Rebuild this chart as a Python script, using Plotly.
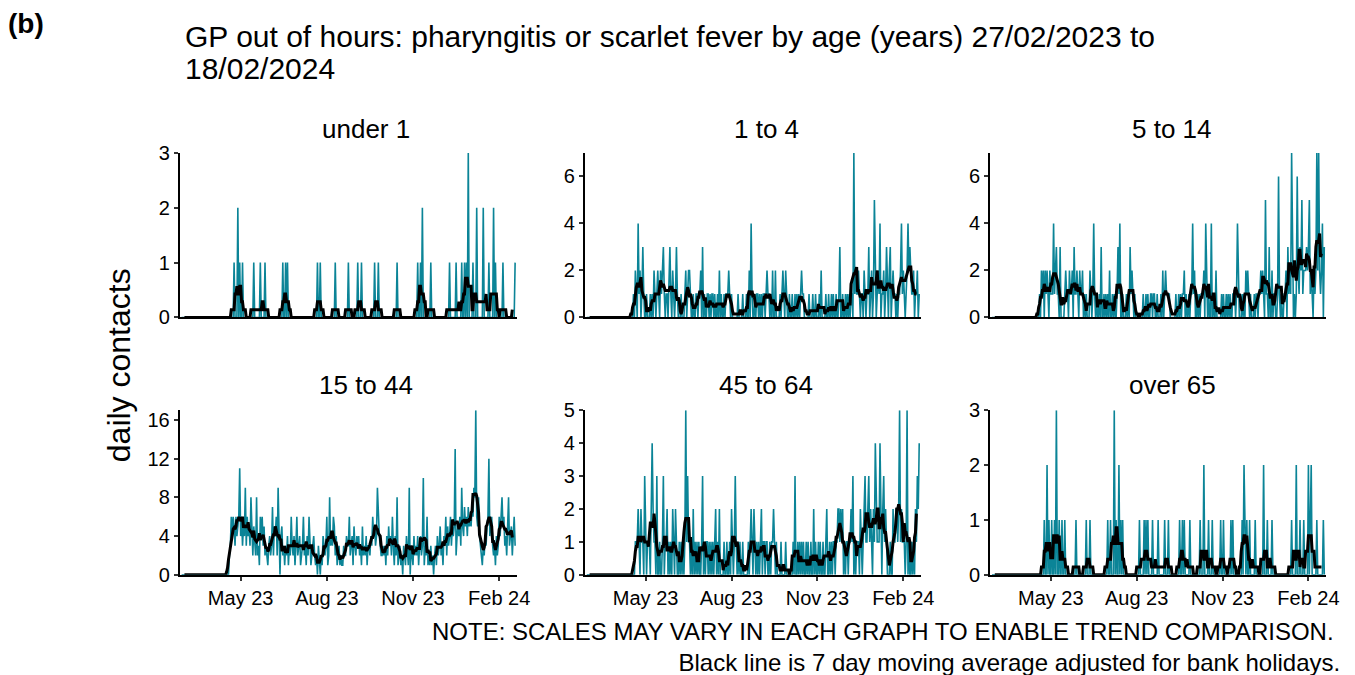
import pandas as pd
import plotly.graph_objects as go

# ---------------- data ----------------
axis_start = "2023-02-27"
axis_end = "2024-02-18"
data_start = "2023-04-18"   # first day of reported values (zeros before)

panel_titles = ["under 1", "1 to 4", "5 to 14", "15 to 44", "45 to 64", "over 65"]
y_max = [3, 7, 7, 17, 5, 3]
y_ticks = [[0, 1, 2, 3], [0, 2, 4, 6], [0, 2, 4, 6], [0, 4, 8, 12, 16], [0, 1, 2, 3, 4, 5], [0, 1, 2, 3]]
x_tick_dates = ["2023-05-01", "2023-08-01", "2023-11-01", "2024-02-01"]
x_tick_labels = ["May 23", "Aug 23", "Nov 23", "Feb 24"]

# daily contacts, one value per day from data_start to axis_end (rows of 10 days)
under_1 = [
    0,0,0,0,0,0,1,0,0,0, 2,0,1,0,0,1,0,0,0,0, 0,0,0,0,0,0,0,1,0,0, 0,0,0,0,1,0,0,0,0,1,
    0,0,0,0,0,0,0,0,0,0, 0,0,0,0,0,0,0,0,1,0, 0,1,0,1,0,0,0,0,0,0, 0,0,0,0,0,0,0,0,0,0,
    0,0,0,0,0,0,0,0,0,0, 0,0,0,0,0,1,0,0,1,0, 0,0,0,0,0,0,0,0,0,0, 0,0,0,0,1,0,0,0,0,0,
    0,0,0,0,0,0,0,0,1,0, 0,0,0,0,0,0,0,0,1,0, 0,0,1,0,0,0,0,0,0,0, 0,0,0,0,0,0,1,0,0,0,
    1,0,0,0,0,0,0,0,0,0, 0,0,0,0,0,0,0,0,0,0, 1,0,0,0,0,0,0,0,0,0, 0,0,0,0,0,0,0,0,0,0,
    0,0,1,0,0,1,0,2,0,0, 0,0,0,0,0,0,1,0,0,0, 0,0,0,0,0,0,0,0,0,0, 0,0,0,0,0,0,1,0,0,0,
    0,0,0,1,0,0,0,0,0,1, 0,0,1,0,1,0,3,0,0,0, 0,1,0,0,0,2,0,0,0,0, 0,0,2,0,0,0,0,0,1,0,
    0,0,0,2,0,1,0,0,0,0, 0,0,0,1,0,0,0,0,0,0, 0,0,0,0,0,0,1,
]
age_1_to_4 = [
    1,0,2,1,0,4,1,2,0,1, 3,1,0,0,1,0,0,0,1,0, 1,0,2,1,0,1,2,1,0,2, 1,2,3,1,0,1,1,0,2,3,
    1,0,2,1,0,1,3,1,0,0, 0,1,0,0,0,1,2,0,1,2, 2,1,0,0,1,0,0,1,1,0, 1,1,2,0,3,0,1,0,0,1,
    1,0,1,0,1,1,0,1,0,0, 1,0,2,0,1,0,0,1,0,1, 1,1,2,1,0,1,0,0,0,0, 0,0,1,0,0,0,0,1,0,0,
    0,1,0,0,2,0,4,1,0,0, 1,0,1,1,0,1,0,1,0,1, 1,0,1,2,1,1,0,1,0,2, 0,0,2,0,0,0,0,1,0,1,
    2,1,0,2,1,0,0,1,0,0, 1,0,0,1,0,1,0,1,0,1, 2,1,1,0,0,0,0,0,1,0, 0,0,1,0,0,1,0,0,0,1,
    0,2,0,0,0,0,1,0,0,1, 0,0,1,0,1,0,0,1,0,0, 1,3,0,0,1,0,0,1,0,1, 0,1,0,1,1,0,7,1,2,1,
    1,2,1,0,1,1,0,2,1,0, 1,1,3,0,1,2,0,1,5,1, 0,1,2,1,4,0,1,1,2,0, 1,3,1,0,2,3,0,1,2,1,
    1,0,1,0,1,1,2,4,1,2, 1,0,1,2,4,2,3,2,1,1, 2,0,1,1,2,0,1,
]
age_5_to_14 = [
    0,1,0,2,1,2,0,2,1,2, 1,0,2,1,1,1,4,1,2,3, 1,1,0,3,0,0,0,0,1,2, 1,1,0,2,1,1,2,0,3,1,
    1,2,1,0,2,1,1,2,0,1, 0,1,0,0,0,2,1,0,1,4, 1,0,1,0,0,1,0,3,0,0, 1,0,1,0,1,0,2,0,0,1,
    0,1,0,0,1,3,1,4,0,0, 1,0,0,0,1,0,1,0,3,1, 2,1,0,1,0,0,0,0,0,0, 0,0,1,0,0,1,0,1,0,0,
    1,1,0,1,1,0,0,1,0,0, 0,1,0,2,0,1,2,1,1,1, 1,0,0,0,0,0,0,1,0,0, 1,0,1,0,1,1,2,0,1,0,
    0,1,0,1,1,4,1,2,0,0, 1,0,1,0,1,1,1,2,0,4, 1,0,1,0,0,4,0,1,0,0, 2,0,0,0,0,0,1,0,1,0,
    0,1,0,1,0,1,0,0,1,1, 1,0,1,4,1,0,0,0,1,0, 1,0,2,1,2,1,0,1,0,0, 0,1,0,1,1,0,1,1,2,1,
    2,1,0,5,1,1,0,3,0,0, 2,0,1,1,0,0,1,6,1,0, 1,0,0,1,1,2,0,3,1,2, 1,7,2,0,1,0,1,6,2,1,
    3,2,5,1,2,2,2,3,2,3, 5,1,2,1,0,2,1,2,7,2, 7,2,1,2,4,0,3,
]
age_15_to_44 = [
    0,2,3,6,4,6,5,3,6,4, 5,6,11,4,6,3,5,4,9,3, 6,4,5,3,8,4,2,5,3,2, 8,2,3,1,6,4,6,3,5,2,
    3,2,1,3,4,2,3,7,2,5, 4,6,2,9,3,0,4,5,2,3, 1,3,2,4,1,3,2,6,3,2, 4,1,3,6,2,3,4,1,2,3,
    6,2,3,1,4,2,6,3,1,2, 3,4,2,1,2,0,3,1,0,2, 1,4,3,2,3,6,1,2,8,3, 4,3,6,5,2,4,1,2,3,1,
    2,1,1,3,2,2,4,3,3,6, 2,3,4,1,5,3,2,4,3,4, 2,3,1,5,2,3,2,4,1,3, 3,2,4,3,6,4,5,3,4,9,
    5,4,3,2,2,3,2,3,1,4, 2,5,3,4,2,6,3,1,4,2, 8,1,2,3,1,2,0,3,2,1, 4,2,1,9,0,3,2,1,4,2,
    3,2,4,1,3,4,2,3,10,1, 3,2,6,1,2,1,3,1,2,0, 2,3,1,4,2,3,5,2,3,1, 4,3,6,2,5,3,4,6,3,5,
    4,5,13,2,4,5,4,6,3,9, 5,4,7,5,6,4,7,5,6,5, 7,6,9,8,17,6,5,8,4,3, 2,1,3,2,4,3,5,6,12,4,
    5,6,3,2,3,1,4,2,3,6, 4,6,8,5,6,3,4,2,5,8, 3,4,5,2,4,6,3,
]
age_45_to_64 = [
    0,0,1,1,1,2,1,0,2,1, 1,0,3,1,0,1,1,1,0,2, 4,2,1,1,0,3,0,0,1,0, 0,1,3,0,1,1,2,0,1,0,
    1,0,2,1,0,2,1,0,0,1, 0,1,0,1,0,1,5,1,3,1, 1,0,1,0,2,0,1,0,1,0, 1,0,0,1,3,0,1,0,1,1,
    0,1,0,1,0,1,0,1,2,0, 1,0,2,0,0,0,0,1,0,0, 1,0,0,1,0,2,1,0,1,3, 1,0,1,0,1,0,0,1,0,0,
    0,0,0,1,0,1,2,1,0,2, 1,0,1,0,1,0,1,2,0,1, 1,0,1,1,0,0,1,0,1,1, 2,1,0,1,0,0,0,0,1,0,
    0,0,0,1,0,0,0,0,0,0, 0,1,0,3,0,0,1,0,1,0, 1,0,1,0,0,1,0,1,0,0, 1,0,0,2,0,1,0,0,1,0,
    1,0,0,1,0,0,1,2,0,0, 1,0,1,0,1,1,0,1,1,2, 2,1,2,1,2,0,1,0,1,1, 0,1,1,2,1,3,0,1,0,1,
    1,1,0,2,1,0,1,2,3,1, 1,2,3,1,2,1,0,2,1,4, 2,1,1,1,4,1,0,2,3,1, 2,1,0,0,0,1,0,0,2,1,
    1,2,2,1,2,5,1,2,1,1, 1,0,1,5,0,1,0,0,1,0, 1,0,2,1,3,2,4,
]
over_65 = [
    0,0,0,0,0,0,1,0,0,2, 0,1,0,0,1,0,0,1,0,3, 0,0,1,0,0,1,0,0,1,0, 0,0,0,0,0,0,0,0,0,0,
    1,0,0,0,0,0,0,0,0,0, 0,1,0,0,0,1,0,0,0,0, 0,0,0,0,0,0,0,0,0,0, 0,0,0,0,1,0,0,1,0,0,
    0,3,0,1,0,0,2,0,1,0, 1,0,0,0,0,0,0,0,0,0, 0,0,0,0,0,0,0,0,1,0, 0,0,0,1,0,1,0,1,0,0,
    0,0,1,0,0,0,0,0,1,0, 0,0,0,0,0,1,0,0,0,1, 0,0,0,0,0,0,0,0,0,0, 0,1,0,0,1,0,1,0,0,0,
    0,0,1,0,0,0,0,0,0,0, 0,0,0,1,0,0,0,2,0,0, 0,0,1,0,0,0,1,0,0,0, 0,0,0,0,0,1,0,0,1,0,
    0,0,0,0,0,0,1,0,1,0, 0,0,0,0,0,0,0,0,1,0, 2,1,0,1,0,0,1,0,0,0, 0,0,1,0,0,0,0,0,0,0,
    0,2,0,0,0,1,0,0,0,0, 1,0,0,0,0,0,0,0,0,0, 0,0,0,0,0,0,0,0,0,0, 0,1,0,0,0,0,2,0,0,0,
    1,0,0,0,1,0,0,0,0,2, 0,1,2,0,0,0,0,0,1,0, 0,0,0,0,0,1,0,
]

series_list = [under_1, age_1_to_4, age_5_to_14, age_15_to_44, age_45_to_64, over_65]

# ---------------- styling ----------------
TEAL = "#0B8497"
FONT = "Liberation Sans, Arial, sans-serif"
W, H = 1355, 675

# layout positions (figure pixels)
col_px = [(181.5, 522.0), (590.6, 930.0), (999.7, 1339.0)]
row_px = [(146.7, 316.8), (412.7, 582.8)]
title_cx = [369.4, 773.5, 1183.6]
title_cy = [122.0, 387.0]

all_days = pd.date_range(axis_start, axis_end, freq="D")
x_range = [pd.Timestamp(axis_start) - pd.Timedelta(days=2), pd.Timestamp(axis_end) + pd.Timedelta(days=2)]

fig = go.Figure()
annotations = []

for i, (title, vals) in enumerate(zip(panel_titles, series_list)):
    r, c = divmod(i, 3)
    idx = "" if i == 0 else str(i + 1)
    s = pd.Series(vals, index=pd.date_range(data_start, periods=len(vals), freq="D"))
    s = s.reindex(all_days, fill_value=0)
    ma = s.rolling(7, center=True).mean()

    fig.add_trace(go.Scatter(x=s.index, y=s.values, mode="lines",
                             line=dict(color=TEAL, width=1.6), xaxis="x" + idx, yaxis="y" + idx,
                             showlegend=False, hoverinfo="skip"))
    fig.add_trace(go.Scatter(x=ma.index, y=ma.values, mode="lines",
                             line=dict(color="black", width=3), xaxis="x" + idx, yaxis="y" + idx,
                             showlegend=False, hoverinfo="skip"))

    x0, x1 = col_px[c]
    yt, yb = row_px[r]
    xd = [x0 / W, x1 / W]
    yd = [1 - yb / H, 1 - yt / H]
    bottom = r == 1
    fig.layout["xaxis" + idx] = dict(
        domain=xd, anchor="y" + idx, type="date", range=x_range,
        showline=True, linecolor="black", linewidth=2, showgrid=False, zeroline=False,
        ticks="outside" if bottom else "", ticklen=4, tickwidth=1.5, tickcolor="#333",
        tickvals=x_tick_dates if bottom else [], ticktext=x_tick_labels if bottom else [],
        showticklabels=bottom, tickfont=dict(family=FONT, size=20, color="black"),
    )
    fig.layout["yaxis" + idx] = dict(
        domain=yd, anchor="x" + idx, range=[0, y_max[i]],
        showline=True, linecolor="black", linewidth=2, showgrid=False, zeroline=False,
        ticks="outside", ticklen=4, tickwidth=1.5, tickcolor="#333",
        tickvals=y_ticks[i], tickfont=dict(family=FONT, size=20, color="black"),
    )
    annotations.append(dict(text=title, x=title_cx[c] / W, y=1 - title_cy[r] / H,
                            xref="paper", yref="paper", xanchor="center", yanchor="middle",
                            showarrow=False, font=dict(family=FONT, size=26, color="black")))

annotations += [
    dict(text="<b>(b)</b>", x=6 / W, y=1 - 12.7 / H, xref="paper", yref="paper",
         xanchor="left", yanchor="middle", showarrow=False,
         font=dict(family=FONT, size=28, color="black")),
    dict(text="GP out of hours: pharyngitis or scarlet fever by age (years) 27/02/2023 to",
         x=184.5 / W, y=1 - 26.2 / H, xref="paper", yref="paper", xanchor="left", yanchor="middle",
         showarrow=False, font=dict(family=FONT, size=30, color="black")),
    dict(text="18/02/2024",
         x=184.5 / W, y=1 - 59.2 / H, xref="paper", yref="paper", xanchor="left", yanchor="middle",
         showarrow=False, font=dict(family=FONT, size=30, color="black")),
    dict(text="daily contacts", x=121 / W, y=1 - 366.3 / H, xref="paper", yref="paper",
         xanchor="center", yanchor="middle", textangle=-90, showarrow=False,
         font=dict(family=FONT, size=32, color="black")),
    dict(text="NOTE: SCALES MAY VARY IN EACH GRAPH TO ENABLE TREND COMPARISON.&nbsp;<br>"
              "Black line is 7 day moving average adjusted for bank holidays.",
         x=1.0, y=1 - 657.5 / H, xref="paper", yref="paper", xanchor="right", yanchor="middle",
         align="right", showarrow=False, font=dict(family=FONT, size=24, color="black")),
]

fig.update_layout(width=W, height=H, margin=dict(l=0, r=0, t=0, b=0),
                  paper_bgcolor="white", plot_bgcolor="white",
                  annotations=annotations, showlegend=False,
                  font=dict(family=FONT, color="black"))

post = (
    "document.documentElement.style.margin='0';document.body.style.margin='0';"
    "document.documentElement.style.overflow='hidden';document.body.style.overflow='hidden';"
    "var gd=document.getElementById('{plot_id}');"
    "gd.style.position='fixed';gd.style.left='0px';gd.style.top='0px';"
)
fig.write_html("out.html", config={"displayModeBar": False}, post_script=post)
